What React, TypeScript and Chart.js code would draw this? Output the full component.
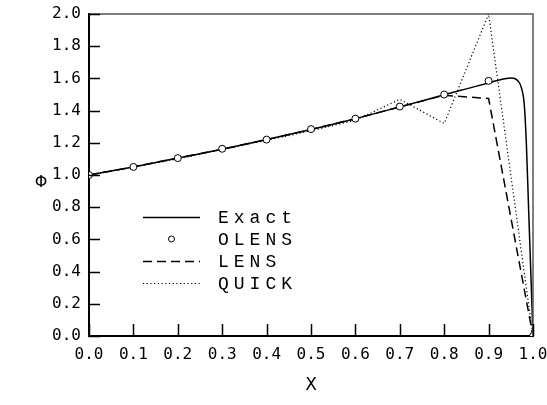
import React, { useEffect, useRef } from "react";
import { Chart, registerables } from "chart.js";

Chart.register(...registerables);

// ---- data ----
const gridX = [0, 0.1, 0.2, 0.3, 0.4, 0.5, 0.6, 0.7, 0.8, 0.9, 1.0];
const olensY = [1.0, 1.05, 1.105, 1.163, 1.22, 1.285, 1.35, 1.425, 1.5, 1.585, 0.0];
const lensY = [1.0, 1.05, 1.105, 1.16, 1.22, 1.283, 1.35, 1.423, 1.495, 1.475, 0.0];
const quickY = [1.0, 1.05, 1.1, 1.16, 1.215, 1.275, 1.34, 1.47, 1.32, 2.0, 0.0];
const exactX = [0, 0.1, 0.2, 0.3, 0.4, 0.5, 0.6, 0.7, 0.8, 0.85, 0.9, 0.92, 0.94, 0.95, 0.96, 0.97, 0.975, 0.98, 0.985, 0.99, 0.995, 1.0];
const exactY = [1.0, 1.05, 1.105, 1.16, 1.22, 1.283, 1.35, 1.423, 1.498, 1.535, 1.572, 1.587, 1.6, 1.603, 1.598, 1.57, 1.53, 1.45, 1.2, 0.8, 0.4, 0.0];
const seriesLabels = ["Exact", "OLENS", "LENS", "QUICK"];
const xTitle = "X";
const yTitle = "Φ";

const pts = (xs: number[], ys: number[]) => xs.map((x, i) => ({ x, y: ys[i] }));

const decor = {
  id: "decor",
  afterDraw(chart: any) {
    const { ctx, chartArea: a, scales } = chart;
    const xs = scales.x;
    const ys = scales.y;
    ctx.save();
    // top & right frame
    ctx.strokeStyle = "#555";
    ctx.lineWidth = 1.5;
    ctx.beginPath();
    ctx.moveTo(a.left, a.top);
    ctx.lineTo(a.right, a.top);
    ctx.lineTo(a.right, a.bottom);
    ctx.stroke();
    // inward ticks
    ctx.strokeStyle = "#000";
    ctx.lineWidth = 1.5;
    ctx.beginPath();
    xs.ticks.forEach((t: any) => {
      const px = Math.round(xs.getPixelForValue(t.value)) + 0.5;
      ctx.moveTo(px, a.bottom);
      ctx.lineTo(px, a.bottom - 12);
    });
    ys.ticks.forEach((t: any) => {
      const py = Math.round(ys.getPixelForValue(t.value)) + 0.5;
      ctx.moveTo(a.left, py);
      ctx.lineTo(a.left + 11, py);
    });
    ctx.stroke();
    // axis titles
    ctx.fillStyle = "#000";
    ctx.textAlign = "center";
    ctx.textBaseline = "middle";
    ctx.font = "16px 'DejaVu Sans'";
    ctx.fillText(yTitle, 41, 183);
    ctx.font = "17px 'DejaVu Sans'";
    ctx.fillText(xTitle, (a.left + a.right) / 2, 386);
    // legend
    const ds = chart.data.datasets;
    const x0 = a.left + 54;
    const x1 = a.left + 111;
    const tx = a.left + 129;
    ctx.font = "18px 'Liberation Mono'";
    (ctx as any).letterSpacing = "5px";
    ctx.textAlign = "left";
    ds.forEach((d: any, i: number) => {
      const cy = a.top + 203 + i * 22;
      if (d.showLine === false) {
        ctx.beginPath();
        ctx.setLineDash([]);
        ctx.lineWidth = 1;
        ctx.strokeStyle = d.pointBorderColor;
        ctx.fillStyle = "#fff";
        ctx.arc((x0 + x1) / 2, cy, 3, 0, Math.PI * 2);
        ctx.fill();
        ctx.stroke();
      } else {
        ctx.beginPath();
        ctx.setLineDash(d.borderDash || []);
        ctx.lineWidth = d.borderWidth;
        ctx.strokeStyle = d.borderColor;
        ctx.moveTo(x0, cy + 0.5);
        ctx.lineTo(x1, cy + 0.5);
        ctx.stroke();
      }
      ctx.setLineDash([]);
      ctx.fillStyle = "#000";
      ctx.fillText(d.label, tx, cy + 1);
    });
    ctx.restore();
  },
};

export default function App() {
  const ref = useRef<HTMLCanvasElement>(null);
  useEffect(() => {
    if (!ref.current) return;
    const tickFont = { family: "'DejaVu Sans Mono'", size: 16 };
    const chart = new Chart(ref.current, {
      type: "scatter",
      data: {
        datasets: [
          {
            label: seriesLabels[0],
            data: pts(exactX, exactY),
            showLine: true,
            borderColor: "#000",
            borderWidth: 1.5,
            pointRadius: 0,
            cubicInterpolationMode: "monotone",
            order: 2,
          },
          {
            label: seriesLabels[1],
            data: pts(gridX, olensY),
            showLine: false,
            pointRadius: 3.5,
            pointBorderColor: "#000",
            pointBackgroundColor: "#fff",
            pointBorderWidth: 1,
            borderColor: "#000",
            backgroundColor: "#fff",
            order: 0,
          },
          {
            label: seriesLabels[2],
            data: pts(gridX, lensY),
            showLine: true,
            borderColor: "#000",
            borderWidth: 1.5,
            borderDash: [9, 5],
            pointRadius: 0,
            order: 1,
          },
          {
            label: seriesLabels[3],
            data: pts(gridX, quickY),
            showLine: true,
            borderColor: "#000",
            borderWidth: 1.2,
            borderDash: [1.2, 2.5],
            pointRadius: 0,
            order: 1,
          },
        ],
      } as any,
      options: {
        animation: false,
        responsive: false,
        devicePixelRatio: 1,
        layout: { padding: { top: 14, right: 14, left: 0, bottom: 0 } },
        plugins: { legend: { display: false }, tooltip: { enabled: false } },
        scales: {
          x: {
            type: "linear",
            min: 0,
            max: 1,
            afterFit: (s: any) => {
              s.height = 69;
              s.paddingLeft = 0;
              s.paddingRight = 0;
            },
            ticks: {
              stepSize: 0.1,
              color: "#000",
              font: tickFont,
              padding: 9,
              maxRotation: 0,
              callback: (v: any) => Number(v).toFixed(1),
            },
            grid: { display: false, drawTicks: false },
            border: { display: true, color: "#000", width: 2 },
          },
          y: {
            type: "linear",
            min: 0,
            max: 2,
            afterFit: (s: any) => {
              s.width = 89;
              s.paddingTop = 0;
              s.paddingBottom = 0;
            },
            ticks: {
              stepSize: 0.2,
              color: "#000",
              font: tickFont,
              padding: 8,
              callback: (v: any) => Number(v).toFixed(1),
            },
            grid: { display: false, drawTicks: false },
            border: { display: true, color: "#000", width: 2 },
          },
        },
      } as any,
      plugins: [decor],
    });
    return () => chart.destroy();
  }, []);
  return (
    <div style={{ position: "absolute", left: 0, top: 0, background: "#fff" }}>
      <canvas ref={ref} width={547} height={405} style={{ display: "block" }} />
    </div>
  );
}
